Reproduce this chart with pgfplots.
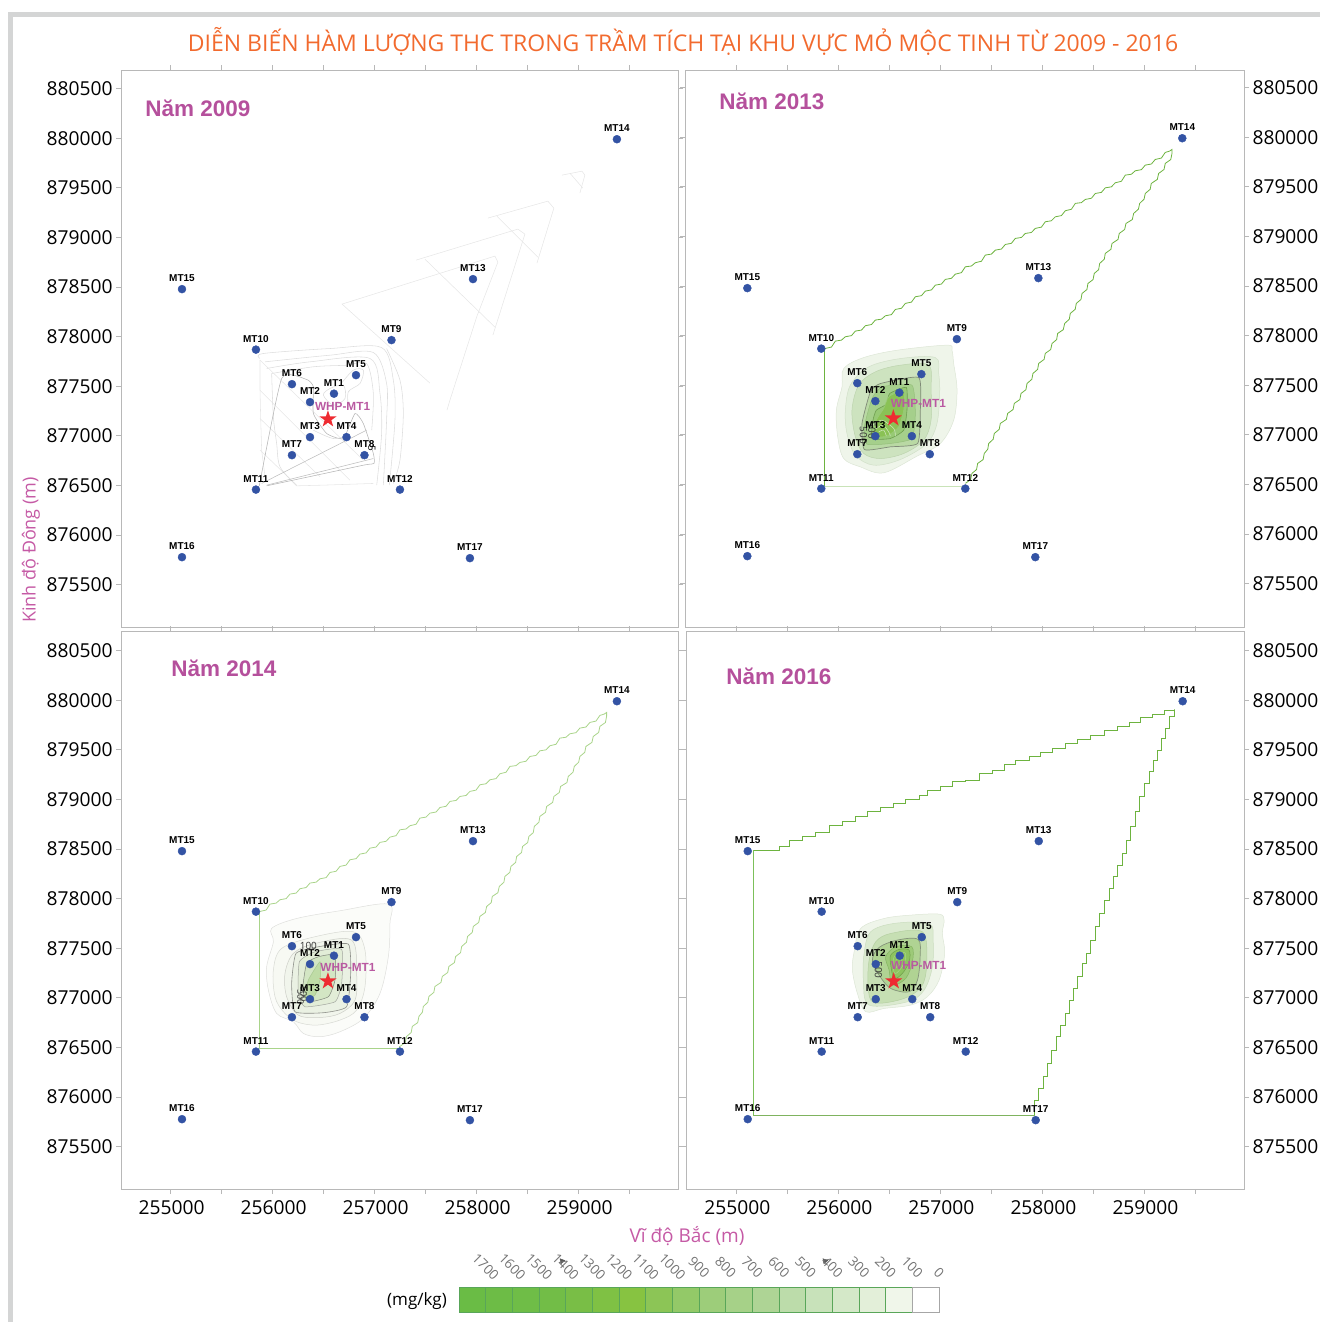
\documentclass[border=0pt]{standalone}
\usepackage{fontspec}
\usepackage{pgfplots}
\usepackage{pgfplotstable}
\pgfplotsset{compat=1.18}
\setmainfont{Open Sans}
\newfontfamily\arialf{Liberation Sans}
\definecolor{ptblue}{HTML}{3353A4}
\definecolor{starred}{HTML}{EE2B31}
\definecolor{mag}{HTML}{B5509C}
\definecolor{maglab}{HTML}{C55AA5}
\definecolor{orangetitle}{HTML}{F26A2E}
\definecolor{framegray}{HTML}{B8B8B8}
\definecolor{bandgray}{HTML}{D4D5D5}
\definecolor{bdgreen}{HTML}{6DB33F}
\definecolor{bdlight}{HTML}{A9D48A}
\definecolor{bdpale}{HTML}{C9E3B8}
\newcommand\hex[1]{\definecolor{#1}{HTML}{#1}}
\hex{E6E6E6}\hex{DDDDDD}\hex{B5B5B5}\hex{BDBDBD}\hex{EFF5EA}\hex{DDE6D6}\hex{E1EEDA}\hex{D2E0C9}
\hex{CDE3BF}\hex{BDD4AE}\hex{B9D9A4}\hex{808A78}\hex{A5CF8B}\hex{95BF7B}\hex{97C975}\hex{6E9E50}
\hex{8AC255}\hex{9CCB78}\hex{CFE6BD}\hex{FBFCF9}\hex{DEDFDC}\hex{F7F9F3}\hex{D8DAD4}\hex{F1F5EC}
\hex{CDCFC8}\hex{EAF1E3}\hex{8E908A}\hex{E2EDD7}\hex{A4A8A0}\hex{D3E6C4}\hex{7F857A}\hex{BFDCA6}
\hex{A8C891}\hex{DBEAD0}\hex{CBDDBF}\hex{C6DFB3}\hex{B5D0A2}\hex{B0D393}\hex{84937A}\hex{9DCA78}
\hex{85B463}\hex{8DC35F}\hex{6F9F4B}\hex{A8D68A}\hex{7FB35F}\hex{7CC05A}

\pgfdeclareplotmark{fstar}{%
  \pgfpathmoveto{\pgfpointpolar{90}{9pt}}%
  \pgfpathlineto{\pgfpointpolar{126}{3.5pt}}%
  \pgfpathlineto{\pgfpointpolar{162}{9pt}}%
  \pgfpathlineto{\pgfpointpolar{198}{3.5pt}}%
  \pgfpathlineto{\pgfpointpolar{234}{9pt}}%
  \pgfpathlineto{\pgfpointpolar{270}{3.5pt}}%
  \pgfpathlineto{\pgfpointpolar{306}{9pt}}%
  \pgfpathlineto{\pgfpointpolar{342}{3.5pt}}%
  \pgfpathlineto{\pgfpointpolar{18}{9pt}}%
  \pgfpathlineto{\pgfpointpolar{54}{3.5pt}}%
  \pgfpathclose\pgfusepathqfill}

\pgfplotstableread{
name x y
MT1 256601 877425
MT2 256366 877340
MT3 256366 876987
MT4 256724 876987
MT5 256817 877612
MT6 256189 877521
MT7 256189 876805
MT8 256900 876805
MT9 257165 877965
MT10 255836 877869
MT11 255836 876458
MT12 257248 876458
MT13 257964 878580
MT14 259375 879990
MT15 255111 878479
MT16 255111 875777
MT17 257934 875767
}\stations

% blanking outline, 2013 and 2014 grids
\pgfplotstableread{
x y
255876 877871
255936 877885
255974 877945
256034 877955
256072 877989
256132 878000
256170 878046
256230 878056
256268 878100
256328 878112
256366 878157
256426 878166
256464 878200
256524 878212
256562 878264
256622 878276
256660 878325
256720 878338
256758 878392
256818 878403
256856 878449
256916 878461
256954 878509
257014 878520
257052 878567
257112 878578
257150 878620
257210 878635
257248 878694
257308 878702
257346 878735
257406 878750
257444 878812
257504 878822
257542 878862
257602 878873
257640 878919
257700 878931
257738 878980
257798 878990
257836 879030
257896 879040
257934 879081
257994 879094
258032 879148
258092 879158
258130 879198
258190 879210
258228 879259
258288 879274
258326 879333
258386 879341
258424 879373
258484 879385
258522 879433
258582 879444
258620 879490
258680 879500
258718 879541
258778 879556
258816 879618
258876 879627
258914 879662
258974 879673
259012 879719
259072 879730
259110 879776
259170 879790
259208 879847
259250 879860
259274 879877
259274 879837
259262 879775
259208 879736
259196 879675
259143 879635
259130 879575
259071 879534
259060 879475
259012 879433
259000 879375
258957 879333
258945 879275
258898 879232
258885 879170
258823 879131
258810 879070
258757 879030
258745 878970
258686 878929
258675 878870
258620 878829
258610 878770
258565 878728
258555 878665
258512 878627
258500 878565
258450 878526
258440 878465
258392 878425
258382 878365
258336 878325
258325 878265
258277 878224
258267 878165
258222 878123
258208 878060
258153 878022
258143 877960
258098 877921
258085 877860
258032 877821
258020 877760
257967 877720
257957 877660
257911 877619
257900 877560
257853 877518
257842 877455
257794 877417
257782 877355
257728 877317
257716 877255
257663 877216
257650 877155
257591 877115
257580 877055
257532 877014
257521 876955
257477 876913
257468 876855
257434 876813
257422 876750
257369 876712
257358 876650
257313 876611
257300 876550
257248 876510
}\bdA

% blanking outline, 2016 grid
\pgfplotstableread{
x y
255174 878482
255295 878489
255419 878529
255517 878583
255647 878623
255778 878664
255909 878741
256039 878775
256170 878825
256284 878875
256415 878919
256536 878959
256660 878999
256791 879043
256873 879094
257003 879127
257118 879178
257248 879195
257379 879262
257510 879295
257624 879352
257738 879396
257869 879430
257983 879473
258098 879514
258222 879564
258343 879605
258473 879648
258604 879692
258735 879739
258849 879773
258963 879826
259078 879860
259192 879900
259297 879907
259297 879833
259248 879715
259209 879615
259166 879497
259127 879396
259085 879279
259045 879161
259003 879027
258947 878875
258908 878724
258865 878590
258823 878455
258784 878338
258735 878220
258692 878103
258653 877985
258604 877851
258562 877716
258516 877582
258473 877447
258431 877347
258392 877212
258343 877095
258300 876977
258261 876843
258222 876725
258179 876607
258137 876473
258088 876339
258049 876204
258006 876087
257960 875969
257918 875818
}\bdB

\pgfplotsset{
  panel/.style={
    scale only axis, anchor=south west, clip=true,
    xtick={255000,256000,257000,258000,259000},
    minor xtick={255500,256500,257500,258500,259500},
    ytick={875500,876000,876500,877000,877500,878000,878500,879000,879500,880000,880500},
    tick pos=both, tick align=outside,
    major tick length=5pt, minor tick length=5pt,
    tick style={draw=framegray,line width=.8pt},
    axis line style={draw=framegray,line width=1pt},
    scaled ticks=false,
    /pgf/number format/.cd, fixed, precision=0, 1000 sep={}, assume math mode=true,
    /pgfplots/.cd,
    tick label style={font=\fontsize{19.2}{20}\selectfont},
    xticklabel style={yshift=-3pt,xshift=1pt},
  },
  ctr/.style={smooth cycle, tension=0.55, no marks, line width=.5pt},
  web/.style={no marks, line width=.55pt, draw=#1},
  web/.default={E6E6E6},
}

\newcommand\stationplot{%
  \addplot[only marks, mark=*, mark size=4pt, color=ptblue,
    point meta=explicit symbolic, nodes near coords,
    nodes near coords style={font=\arialf\bfseries\fontsize{10}{10}\selectfont,
      text=black, anchor=center, yshift=11pt, inner sep=0pt}]
    table[x=x,y=y,meta=name] {\stations};
  \addplot[only marks, mark=fstar, color=starred] coordinates {(256542,877168)};
}
\newcommand\whp[2]{\node[font=\arialf\bfseries\fontsize{11.8}{12}\selectfont,text=mag!95!white,inner sep=0pt]
  at (axis cs:#1,#2) {WHP-MT1};}
\newcommand\clab[4]{\node[font=\fontsize{#4}{10}\selectfont,text=black!80,rotate=#3,inner sep=0pt] at (axis cs:#1,#2) {\strut\smash{500}};}

\begin{document}
\begin{tikzpicture}[x=1pt,y=1pt]
\path (0,0) rectangle (1320,1322);
\fill[bandgray] (7.5,0) rectangle (12.7,1310.3);
\fill[bandgray] (7.5,1305.3) rectangle (1320,1310.3);

% 2009
\begin{axis}[panel, at={(121pt,694.9pt)}, width=557pt, height=557pt,
  xmin=254513, xmax=259974, ymin=875072, ymax=880687,
  xticklabels={}, yticklabel pos=left]
  \addplot[web] coordinates {(257709,877259)(257738,877360)(258003,878207)(258208,878751)(258179,878812)(256680,878328)(257542,877531)};
  \addplot[web] coordinates {(257405,878771)(258404,879084)(258473,879033)(258159,878015)};
  \addplot[web] coordinates {(257493,878781)(258179,878096)};
  \addplot[web] coordinates {(258110,879195)(258698,879366)(258757,879295)(258591,878741)};
  \addplot[web] coordinates {(258199,879215)(258600,878801)};
  \addplot[web] coordinates {(258836,879628)(259032,879668)(259061,879628)(259012,879447)};
  \addplot[web] coordinates {(258914,879648)(259041,879497)};
  \addplot[web=DDDDDD,smooth] coordinates {(257117,877880)(257248,877561)(257281,877225)(257248,876755)(257183,876520)};
  \addplot[web=DDDDDD,smooth] coordinates {(255876,877780)(255909,877830)(256562,877880)(257068,877890)(257183,877561)(257199,877158)(257144,876503)};
  \addplot[web=DDDDDD,smooth] coordinates {(255925,877746)(256562,877813)(256987,877840)(257117,877528)(257117,877158)(257085,876503)};
  \addplot[web=DDDDDD,smooth] coordinates {(255941,877679)(256366,877746)(256954,877780)(257052,877427)(257068,877024)(257020,876503)};
  \addplot[web=DDDDDD,smooth] coordinates {(255990,877628)(256399,877696)(256725,877712)(256921,877729)(256987,877427)(256971,877057)};
  \addplot[web] coordinates {(255876,877763)(256889,876755)};
  \addplot[web] coordinates {(255876,877460)(256758,876553)};
  \addplot[web] coordinates {(255876,877175)(256464,876587)};
  \addplot[web] coordinates {(255876,876856)(256235,876503)};
  \addplot[web] coordinates {(255876,877763)(255876,877460)(255883,877158)(255892,876856)(255925,876587)};
  \addplot[web=DDDDDD,smooth] coordinates {(255990,877628)(256007,877192)(256039,876923)(256072,876688)(256235,876496)};
  \addplot[web] coordinates {(256235,876496)(256500,876503)(256987,876520)};
  \addplot[web=B5B5B5,smooth,tension=.3] coordinates {(255869,876496)(256088,877578)(256333,877568)(256399,877494)(256399,877225)(256529,877024)(256693,876973)(256807,877225)(256889,877124)(256987,876822)(256993,876721)(256889,876704)(255941,876496)};
  \addplot[web=BDBDBD] coordinates {(255892,876520)(256921,877057)};
  \addplot[web=BDBDBD] coordinates {(255941,876503)(256987,876771)};
  \addplot[web=DDDDDD,smooth cycle] coordinates {(256497,877410)(256562,877477)(256693,877511)(256709,877376)(256595,877309)};
  \addplot[web=DDDDDD,smooth] coordinates {(256660,877511)(256790,877662)(256890,877662)(256856,877528)(256742,877444)(256742,877292)};
  \addplot[web=DDDDDD,smooth] coordinates {(256399,877057)(256595,876973)(256758,877007)};
  \stationplot
  \whp{256685}{877299}
  \node[font=\fontsize{10}{10}\selectfont,rotate=270,inner sep=0pt] at (axis cs:256974,876876) {5};
\end{axis}

% 2013
\begin{axis}[panel, at={(685pt,694.9pt)}, width=559pt, height=557pt,
  xmin=254500, xmax=259980, ymin=875062, ymax=880677,
  xticklabels={}, yticklabel pos=right]
  \addplot[ctr,fill=EFF5EA,draw=DDE6D6] coordinates {(257068,877904)(257117,877853)(257134,877719)(257167,877450)(257134,877148)(257003,876913)(256774,876785)(256448,876617)(256219,876677)(256056,876761)(255997,876980)(255984,877249)(256039,877484)(256056,877669)(256252,877779)(256578,877853)};
  \addplot[ctr,fill=E1EEDA,draw=D2E0C9] coordinates {(256954,877779)(256987,877618)(256997,877417)(256970,877114)(256872,876913)(256611,876751)(256350,876694)(256170,876795)(256088,877013)(256072,877249)(256121,877501)(256301,877685)(256611,877769)};
  \addplot[ctr,fill=CDE3BF,draw=BDD4AE] coordinates {(256889,877702)(256912,877450)(256912,877148)(256840,876946)(256644,876812)(256415,876761)(256252,876812)(256170,876980)(256137,877249)(256203,877501)(256366,877635)(256611,877702)};
  \addplot[ctr,tension=.3,fill=B9D9A4,draw=808A78,line width=.7pt] coordinates {(256791,877578)(256807,877249)(256781,876913)(256513,876879)(256258,876852)(256235,877114)(256317,877433)(256415,877517)};
  \addplot[ctr,tension=.3,fill=A5CF8B,draw=95BF7B] coordinates {(256725,877501)(256758,877215)(256725,876963)(256513,876913)(256284,876906)(256258,877081)(256333,877366)(256431,877484)};
  \addplot[ctr,tension=.3,fill=97C975,draw=6E9E50,line width=.6pt] coordinates {(256670,877477)(256676,877249)(256644,877047)(256513,876963)(256333,876963)(256343,877148)(256376,877249)(256474,877309)(256507,877417)};
  \addplot[ctr,tension=.3,fill=8AC255,draw=9CCB78] coordinates {(256644,877450)(256644,877249)(256595,877081)(256480,876987)(256366,876987)(256376,877148)(256448,877265)(256497,877383)};
  \addplot[web=CFE6BD,smooth] coordinates {(256343,877097)(256431,877148)(256546,877064)(256562,876987)};
  \addplot[web=CFE6BD,smooth] coordinates {(256376,877064)(256441,877097)(256497,877030)(256513,876987)};
  \addplot[web=CFE6BD,smooth] coordinates {(256399,877030)(256448,877047)(256474,876987)};
  \addplot[no marks,draw=bdgreen,line width=.8pt] table {\bdA};
  \addplot[no marks,draw=bdpale,line width=1pt] coordinates {(257248,876510)(257248,876483)(255869,876483)};
  \addplot[no marks,draw=bdgreen,line width=1pt] coordinates {(255869,876483)(255869,877871)(255876,877871)};
  \stationplot
  \whp{256787}{877319}
  \clab{256235}{876997}{270}{10}
  \clab{256317}{877047}{270}{10}
\end{axis}

% 2014
\begin{axis}[panel, at={(121pt,132.9pt)}, width=557pt, height=558pt,
  xmin=254513, xmax=259974, ymin=875072, ymax=880697,
  yticklabel pos=left]
  \addplot[ctr,fill=FBFCF9,draw=DEDFDC] coordinates {(257134,877945)(257150,877750)(257134,877414)(257052,877044)(256889,876792)(256660,876658)(256464,876608)(256301,876641)(256203,876759)(256039,876843)(255958,877078)(255941,877313)(256007,877565)(255990,877700)(256235,877800)(256660,877878)};
  \addplot[ctr,fill=F7F9F3,draw=D8DAD4] coordinates {(256791,877666)(256905,877481)(256905,877112)(256823,876876)(256660,876776)(256431,876725)(256235,876759)(256105,876860)(256023,877011)(256007,877280)(256088,877498)(256415,877616)};
  \addplot[ctr,fill=F1F5EC,draw=CDCFC8] coordinates {(256774,877582)(256823,877246)(256807,876977)(256660,876843)(256464,876802)(256252,876826)(256137,877011)(256121,877246)(256203,877448)(256415,877548)};
  \addplot[ctr,tension=.3,fill=EAF1E3,draw=8E908A,line width=.6pt] coordinates {(256742,877542)(256765,877246)(256725,876910)(256497,876850)(256219,876860)(256186,877145)(256229,877448)(256448,877515)};
  \addplot[ctr,tension=.3,fill=E2EDD7,draw=A4A8A0] coordinates {(256676,877488)(256676,877145)(256611,876960)(256317,876910)(256252,877044)(256262,877364)(256415,877464)};
  \addplot[ctr,tension=.3,fill=D3E6C4,draw=7F857A] coordinates {(256611,877431)(256611,877179)(256546,877011)(256350,876960)(256294,877078)(256333,877347)(256448,877414)};
  \addplot[ctr,tension=.3,fill=BFDCA6,draw=A8C891] coordinates {(256464,877364)(256464,877179)(256415,877028)(256317,876994)(256350,877179)};
  \addplot[no marks,draw=bdlight,line width=.8pt] table {\bdA};
  \addplot[no marks,draw=bdlight,line width=1pt] coordinates {(257248,876510)(257248,876490)(255869,876490)(255869,877871)(255876,877871)};
  \stationplot
  \whp{256738}{877309}
  \node[font=\fontsize{10}{10}\selectfont,text=black!80,inner sep=0pt] at (axis cs:256350,877522) {100};
  \clab{256262}{877011}{270}{9}
  \clab{256294}{877040}{270}{9}
\end{axis}

% 2016
\begin{axis}[panel, at={(686pt,132.9pt)}, width=558pt, height=558pt,
  xmin=254506, xmax=259976, ymin=875072, ymax=880697,
  yticklabel pos=right]
  \addplot[ctr,fill=EFF5EA,draw=DDE6D6] coordinates {(256987,877844)(257036,877784)(257019,877649)(257042,877448)(256987,877179)(256872,877011)(256709,876927)(256448,876893)(256268,876860)(256186,877044)(256137,877280)(256154,877464)(256219,877700)(256448,877800)(256709,877834)};
  \addplot[ctr,fill=DBEAD0,draw=CBDDBF] coordinates {(256889,877750)(256928,877582)(256921,877313)(256840,877078)(256676,876960)(256301,876927)(256245,877179)(256252,877448)(256317,877666)(256546,877750)};
  \addplot[ctr,fill=C6DFB3,draw=B5D0A2] coordinates {(256823,877666)(256866,877380)(256823,877128)(256644,876994)(256350,876950)(256291,877112)(256301,877380)(256366,877565)(256513,877649)};
  \addplot[ctr,fill=B0D393,draw=84937A,line width=.7pt] coordinates {(256781,877589)(256801,877414)(256775,877179)(256693,877061)(256513,877095)(256399,877229)(256333,877380)(256399,877508)(256578,877582)};
  \addplot[ctr,fill=9DCA78,draw=85B463] coordinates {(256719,877515)(256725,877364)(256660,877196)(256529,877128)(256497,877280)(256464,877414)(256562,877515)};
  \addplot[ctr,fill=8DC35F,draw=6F9F4B] coordinates {(256693,877481)(256693,877364)(256627,877246)(256546,877196)(256513,877330)(256513,877431)(256595,877488)};
  \addplot[ctr,draw=A8D68A] coordinates {(256654,877454)(256654,877374)(256605,877286)(256552,877246)(256536,877340)(256546,877414)(256595,877454)};
  \addplot[ctr,draw=A8D68A] coordinates {(256618,877414)(256618,877364)(256572,877306)(256562,877364)(256578,877404)};
  \addplot[const plot,no marks,draw=bdgreen,line width=.7pt] table {\bdB};
  \addplot[no marks,draw=7FB35F,line width=.9pt] coordinates {(257918,875818)(257918,875811)(255164,875811)};
  \addplot[no marks,draw=7CC05A,line width=.9pt] coordinates {(255164,875811)(255164,878482)(255174,878482)};
  \stationplot
  \whp{256787}{877330}
  \clab{256376}{877280}{270}{10}
\end{axis}

% colour scale
\begin{axis}[scale only axis, anchor=south west, at={(459pt,10pt)}, width=480pt, height=25pt,
  xmin=0, xmax=18, ymin=0, ymax=1, hide axis, clip=false]
  \addplot[fill={rgb,255:red,106;green,188;blue,69},draw=gray!70!green] coordinates {(0,0)(1,0)(1,1)(0,1)} --cycle;
  \addplot[fill={rgb,255:red,109;green,188;blue,70},draw=gray!70!green] coordinates {(1,0)(2,0)(2,1)(1,1)} --cycle;
  \addplot[fill={rgb,255:red,111;green,189;blue,71},draw=gray!70!green] coordinates {(2,0)(3,0)(3,1)(2,1)} --cycle;
  \addplot[fill={rgb,255:red,114;green,189;blue,71},draw=gray!70!green] coordinates {(3,0)(4,0)(4,1)(3,1)} --cycle;
  \addplot[fill={rgb,255:red,121;green,190;blue,70},draw=gray!70!green] coordinates {(4,0)(5,0)(5,1)(4,1)} --cycle;
  \addplot[fill={rgb,255:red,127;green,193;blue,68},draw=gray!70!green] coordinates {(5,0)(6,0)(6,1)(5,1)} --cycle;
  \addplot[fill={rgb,255:red,135;green,195;blue,65},draw=gray!70!green] coordinates {(6,0)(7,0)(7,1)(6,1)} --cycle;
  \addplot[fill={rgb,255:red,140;green,197;blue,86},draw=gray!70!green] coordinates {(7,0)(8,0)(8,1)(7,1)} --cycle;
  \addplot[fill={rgb,255:red,147;green,201;blue,104},draw=gray!70!green] coordinates {(8,0)(9,0)(9,1)(8,1)} --cycle;
  \addplot[fill={rgb,255:red,157;green,205;blue,122},draw=gray!70!green] coordinates {(9,0)(10,0)(10,1)(9,1)} --cycle;
  \addplot[fill={rgb,255:red,166;green,209;blue,136},draw=gray!70!green] coordinates {(10,0)(11,0)(11,1)(10,1)} --cycle;
  \addplot[fill={rgb,255:red,174;green,212;blue,149},draw=gray!70!green] coordinates {(11,0)(12,0)(12,1)(11,1)} --cycle;
  \addplot[fill={rgb,255:red,188;green,220;blue,170},draw=gray!70!green] coordinates {(12,0)(13,0)(13,1)(12,1)} --cycle;
  \addplot[fill={rgb,255:red,200;green,226;blue,186},draw=gray!70!green] coordinates {(13,0)(14,0)(14,1)(13,1)} --cycle;
  \addplot[fill={rgb,255:red,212;green,232;blue,200},draw=gray!70!green] coordinates {(14,0)(15,0)(15,1)(14,1)} --cycle;
  \addplot[fill={rgb,255:red,227;green,239;blue,217},draw=gray!70!green] coordinates {(15,0)(16,0)(16,1)(15,1)} --cycle;
  \addplot[fill={rgb,255:red,240;green,246;blue,234},draw=gray!70!green] coordinates {(16,0)(17,0)(17,1)(16,1)} --cycle;
  \addplot[fill=white,draw=gray!70] coordinates {(17,0)(18,0)(18,1)(17,1)} --cycle;
  \addplot[only marks, mark=triangle*, mark size=3pt, color=black!65, mark options={rotate=40}] coordinates {(3.86,2.04)(13.72,2.04)};
  \addplot[only marks, mark=none, color=black!55, point meta=explicit symbolic,
    nodes near coords, nodes near coords style={font=\fontsize{13.5}{14}\selectfont,text=black!55,rotate=-45,anchor=center,inner sep=0pt}]
    table[x=x,y=y,meta=t] {
    x y t
    1 1.8 1700
    2 1.8 1600
    3 1.8 1500
    4 1.8 1400
    5 1.8 1300
    6 1.8 1200
    7 1.8 1100
    8 1.8 1000
    9 1.8 900
    10 1.8 800
    11 1.8 700
    12 1.8 600
    13 1.8 500
    14 1.8 400
    15 1.8 300
    16 1.8 200
    17 1.8 100
    18 1.56 0
  };
\end{axis}

% titles and labels
\node[font=\fontsize{23}{24}\selectfont,text=orangetitle] at (683,1281) {DIỄN BIẾN HÀM LƯỢNG THC TRONG TRẦM TÍCH TẠI KHU VỰC MỎ MỘC TINH TỪ 2009 - 2016};
\node[font=\fontsize{18}{18}\selectfont,text=maglab,rotate=90] at (31,772) {Kinh độ Đông (m)};
\node[font=\fontsize{19}{19}\selectfont,text=maglab] at (687,86) {Vĩ độ Bắc (m)};
\node[font=\fontsize{17}{18}\selectfont] at (417,21) {(mg/kg)};
\node[font=\arialf\bfseries\fontsize{22.5}{23}\selectfont,text=mag] at (198,1214) {Năm 2009};
\node[font=\arialf\bfseries\fontsize{22.5}{23}\selectfont,text=mag] at (772,1221) {Năm 2013};
\node[font=\arialf\bfseries\fontsize{22.5}{23}\selectfont,text=mag] at (224,654) {Năm 2014};
\node[font=\arialf\bfseries\fontsize{22.5}{23}\selectfont,text=mag] at (779,646) {Năm 2016};
\end{tikzpicture}
\end{document}
